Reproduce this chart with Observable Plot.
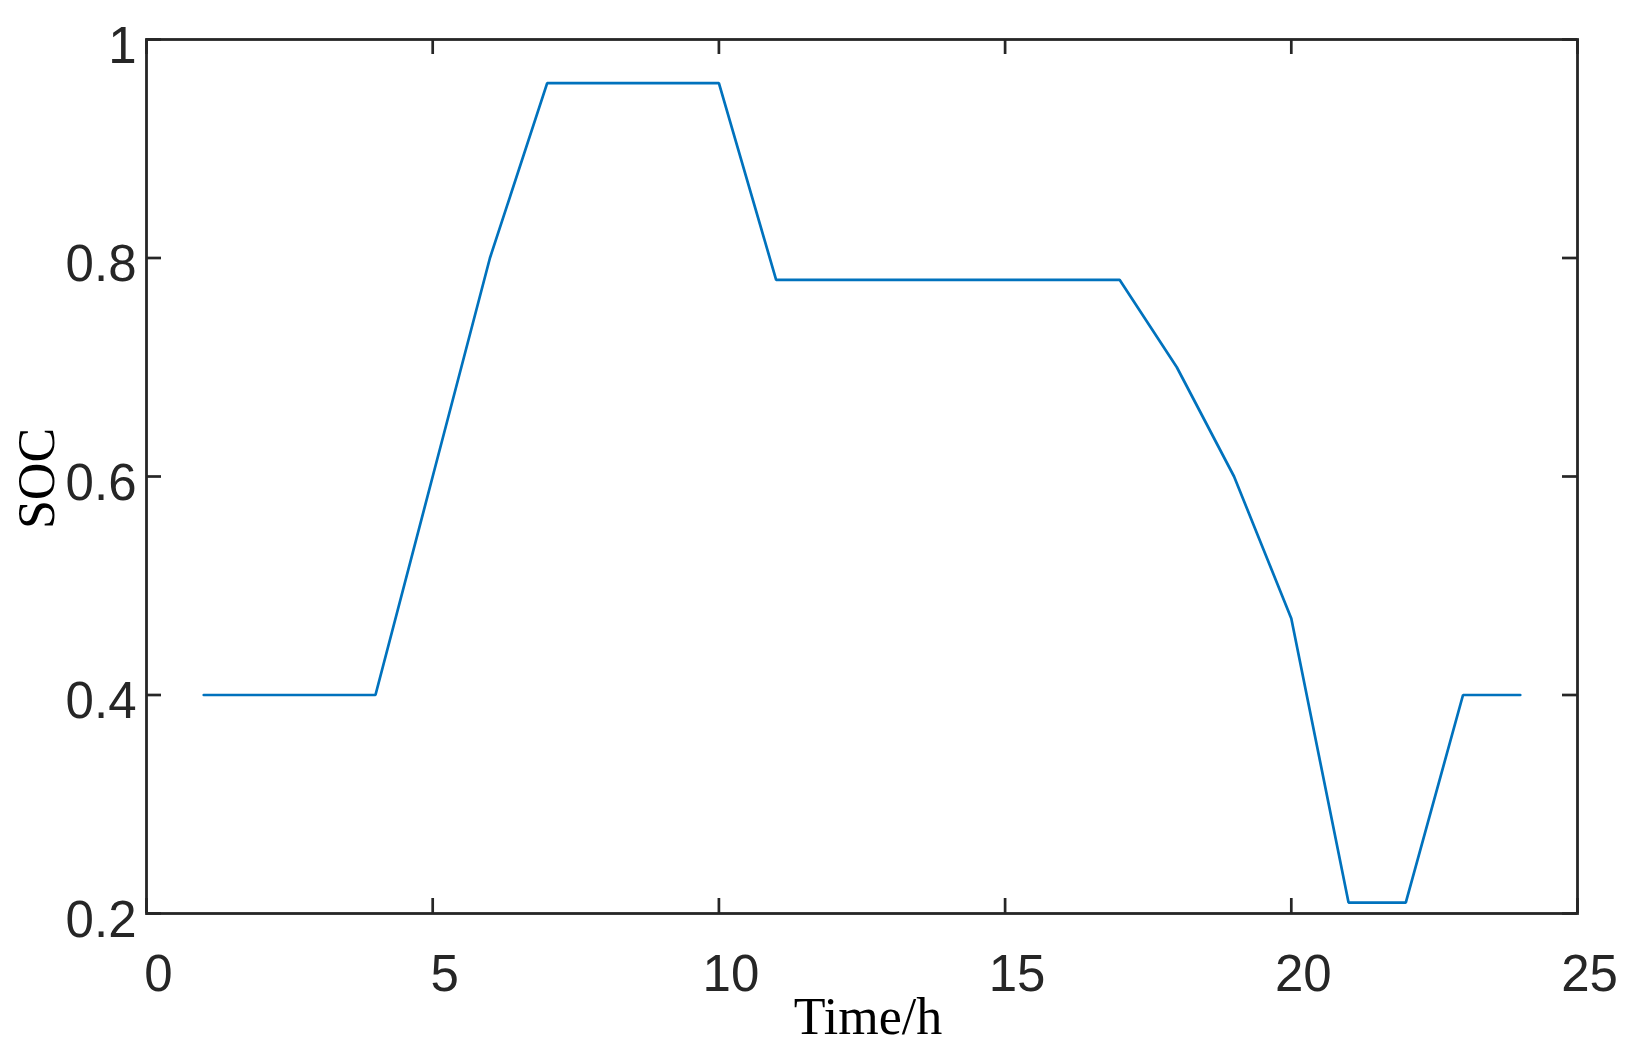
<!DOCTYPE html>
<html>
<head>
<meta charset="utf-8">
<script src="https://cdn.jsdelivr.net/npm/d3@7"></script>
<script src="https://cdn.jsdelivr.net/npm/@observablehq/plot@0.6"></script>
<style>
  html, body { margin: 0; padding: 0; background: #ffffff; }
  svg { display: block; }
</style>
</head>
<body>
<div id="chart"></div>
<script>
// Data
const hours = [1, 2, 3, 4, 5, 6, 7, 8, 9, 10, 11, 12, 13, 14, 15, 16, 17, 18, 19, 20, 21, 22, 23, 24];
const soc = [0.40, 0.40, 0.40, 0.40, 0.60, 0.80, 0.96, 0.96, 0.96, 0.96, 0.78, 0.78, 0.78, 0.78, 0.78, 0.78, 0.78, 0.70, 0.60, 0.47, 0.21, 0.21, 0.40, 0.40];
const xTicks = [0, 5, 10, 15, 20, 25];
const yTicks = [0.2, 0.4, 0.6, 0.8, 1];
const yTickLabels = ["0.2", "0.4", "0.6", "0.8", "1"];
const xTitle = "Time/h";
const yTitle = "SOC";

const xDomain = [0, 25];
const yDomain = [0.2, 1];

const series = hours.map((h, i) => ({hour: h, soc: soc[i]}));
const yTickData = yTicks.map((v, i) => ({v, label: yTickLabels[i]}));

const sans = "Arial, 'Liberation Sans', Helvetica, sans-serif";
const serif = "'Times New Roman', 'Liberation Serif', Times, serif";
const axisColor = "#262626";
const tickLen = 15;

const chart = Plot.plot({
  width: 1637,
  height: 1050,
  marginLeft: 146,
  marginRight: 60,
  marginTop: 39,
  marginBottom: 137,
  style: {background: "#ffffff", overflow: "visible"},
  x: {domain: xDomain, axis: null},
  y: {domain: yDomain, axis: null},
  marks: [
    // inward ticks: bottom & top
    Plot.ruleX(xTicks, {x: d => d, y1: yDomain[0], y2: yDomain[0], insetBottom: tickLen, stroke: axisColor, strokeWidth: 2.7}),
    Plot.ruleX(xTicks, {x: d => d, y1: yDomain[1], y2: yDomain[1], insetTop: tickLen, stroke: axisColor, strokeWidth: 2.7}),
    // inward ticks: left & right
    Plot.ruleY(yTicks, {y: d => d, x1: xDomain[0], x2: xDomain[0], insetLeft: tickLen, stroke: axisColor, strokeWidth: 2.7}),
    Plot.ruleY(yTicks, {y: d => d, x1: xDomain[1], x2: xDomain[1], insetRight: tickLen, stroke: axisColor, strokeWidth: 2.7}),
    // data line
    Plot.line(series, {x: "hour", y: "soc", stroke: "#0072BD", strokeWidth: 2.7, strokeLinejoin: "miter"}),
    // frame
    Plot.frame({stroke: axisColor, strokeWidth: 2.8}),
    // tick labels
    Plot.text(xTicks, {x: d => d, y: yDomain[0], text: d => String(d), dy: 61, dx: 12, fontSize: 51, fontFamily: sans, fill: axisColor, textAnchor: "middle", lineAnchor: "middle"}),
    Plot.text(yTickData, {x: xDomain[0], y: "v", text: "label", dx: -10, dy: 7, fontSize: 51, fontFamily: sans, fill: axisColor, textAnchor: "end", lineAnchor: "middle"}),
    // axis titles
    Plot.text([xTitle], {frameAnchor: "bottom", text: d => d, dy: 120, dx: 6, fontSize: 52, fontFamily: serif, fill: "#000000", textAnchor: "middle", lineAnchor: "bottom"}),
    Plot.text([yTitle], {frameAnchor: "left", text: d => d, dx: -93, dy: 2, rotate: -90, fontSize: 52, fontFamily: serif, fill: "#000000", textAnchor: "middle", lineAnchor: "bottom"})
  ]
});

document.getElementById("chart").appendChild(chart);
</script>
</body>
</html>
